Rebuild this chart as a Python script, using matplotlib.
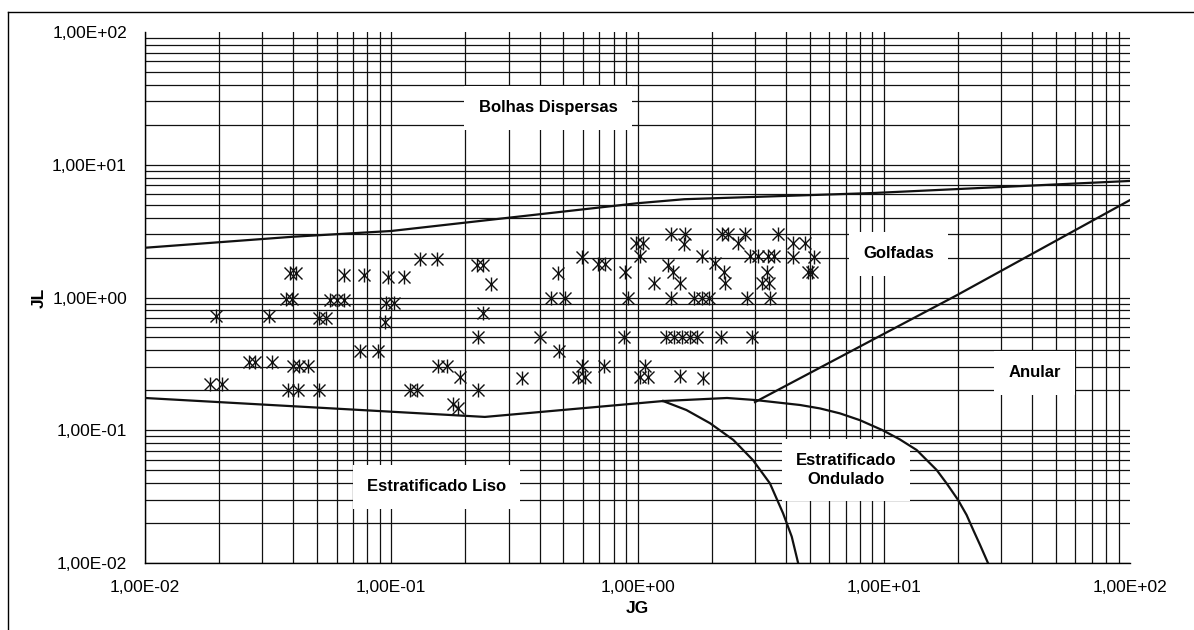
import matplotlib
matplotlib.use('Agg')
import matplotlib.pyplot as plt
from matplotlib.ticker import FixedLocator, FuncFormatter, NullFormatter
from matplotlib.lines import Line2D

plt.rcParams['font.family'] = ['Liberation Sans', 'DejaVu Sans']

# pontos experimentais (JG, JL)
jg_pts = [0.0388, 0.0409, 0.0645, 0.0777, 0.0967, 0.113, 0.0374, 0.0394,
          0.0564, 0.0600, 0.0645, 0.0950, 0.1029, 0.0194, 0.0319, 0.0509,
          0.0542, 0.0943, 0.0747, 0.0886, 0.0264, 0.0280, 0.0329, 0.0400,
          0.0422, 0.0460, 0.0184, 0.0206, 0.0382, 0.0419, 0.0509,
          0.119, 0.127, 0.131, 0.153, 0.222, 0.236, 0.254, 0.236, 0.226,
          0.402, 0.480, 0.477, 0.444, 0.508, 0.593, 0.689, 0.738, 0.155,
          0.168, 0.190, 0.226, 0.178, 0.187, 0.341, 0.593, 0.575, 0.612,
          0.733,
          1.37, 1.56, 1.55, 2.20, 2.33, 2.73, 2.57, 3.73, 4.29, 4.79,
          0.983, 1.05, 1.02, 1.83, 2.86, 3.09, 3.40, 3.59, 4.29, 5.22,
          0.890, 1.33, 1.40, 2.06, 2.25, 3.35, 5.10, 4.92, 1.17, 1.49,
          2.27, 3.19, 3.42, 0.918, 1.37, 1.69, 1.83, 1.95, 2.78, 3.45,
          0.884, 1.31, 1.41, 1.51, 1.63, 1.74, 2.18, 2.91, 1.07, 1.024,
          1.10, 1.49, 1.85]
jl_pts = [1.52, 1.52, 1.48, 1.48, 1.42, 1.42, 0.974, 0.974,
          0.958, 0.958, 0.958, 0.914, 0.914, 0.729, 0.729, 0.704,
          0.704, 0.657, 0.397, 0.397, 0.328, 0.328, 0.328, 0.305,
          0.305, 0.305, 0.224, 0.224, 0.200, 0.200, 0.200,
          0.200, 0.200, 1.94, 1.94, 1.76, 1.76, 1.26, 0.760, 0.507,
          0.507, 0.397, 1.54, 1.00, 1.00, 2.03, 1.78, 1.78, 0.305,
          0.305, 0.253, 0.200, 0.157, 0.146, 0.246, 0.305, 0.253, 0.253,
          0.305,
          3.00, 3.00, 2.53, 3.00, 3.00, 3.00, 2.56, 3.00, 2.56, 2.56,
          2.59, 2.59, 2.05, 2.05, 2.05, 2.05, 2.05, 2.05, 2.03, 2.03,
          1.565, 1.76, 1.565, 1.81, 1.565, 1.565, 1.565, 1.565, 1.28, 1.28,
          1.28, 1.28, 1.28, 1.00, 1.00, 1.00, 1.00, 1.00, 1.00, 1.00,
          0.50, 0.50, 0.50, 0.50, 0.50, 0.50, 0.50, 0.50, 0.305, 0.253,
          0.253, 0.256, 0.246]

# fronteiras do mapa de padroes
bolhas_jg = [0.01, 0.04, 0.1, 0.3, 1.0, 1.55, 9.0, 100]
bolhas_jl = [2.37, 2.87, 3.17, 3.99, 5.13, 5.5, 6.12, 7.55]
liso_jg = [0.01, 0.24, 1.27]
liso_jl = [0.175, 0.126, 0.166]
ond_dir_jg = [1.27, 2.31, 3.0, 4.57, 5.51, 6.64, 8.01, 9.9, 11.6, 13.6,
              16.4, 18.0, 20.0, 21.7, 23.1, 24.6, 26.5]
ond_dir_jl = [0.166, 0.175, 0.169, 0.155, 0.146, 0.134, 0.119, 0.100, 0.0855, 0.071,
              0.0502, 0.0398, 0.030, 0.023, 0.0177, 0.0137, 0.01]
ond_esq_jg = [1.27, 1.58, 1.97, 2.45, 2.94, 3.45, 3.90, 4.23, 4.49]
ond_esq_jl = [0.166, 0.142, 0.113, 0.0845, 0.0597, 0.0398, 0.0237, 0.0158, 0.01]
anular_jg = [3.0, 19.8, 100]
anular_jl = [0.163, 1.04, 5.42]

majors = [0.01, 0.1, 1, 10, 100]
minors = [m * 10.0 ** e for e in range(-2, 2) for m in range(2, 10)]

fig = plt.figure(figsize=(11.94, 6.30), dpi=100)
ax = fig.add_axes([145 / 1194, 1 - 563 / 630, 985 / 1194, 531 / 630])
ax.set_xscale('log')
ax.set_yscale('log')
ax.set_xlim(0.01, 100)
ax.set_ylim(0.01, 100)

fmt = FuncFormatter(lambda v, p: f"{v:.2E}".replace('.', ','))
for axis in (ax.xaxis, ax.yaxis):
    axis.set_major_locator(FixedLocator(majors))
    axis.set_minor_locator(FixedLocator(minors))
    axis.set_major_formatter(fmt)
    axis.set_minor_formatter(NullFormatter())

ax.set_axisbelow(True)
ax.grid(True, which='both', color='#111111', lw=0.9)
ax.tick_params(which='both', length=0)
ax.tick_params(axis='y', pad=13, labelsize=12.5)
ax.tick_params(axis='x', pad=12, labelsize=12.5)
for s in ['top', 'right']:
    ax.spines[s].set_visible(False)
for s in ['left', 'bottom']:
    ax.spines[s].set_linewidth(1.0)

line_kw = dict(color='#111111', lw=1.6, zorder=4)
ax.plot(bolhas_jg, bolhas_jl, **line_kw)
ax.plot(liso_jg, liso_jl, **line_kw)
ax.plot(ond_dir_jg, ond_dir_jl, **line_kw)
ax.plot(ond_esq_jg, ond_esq_jl, **line_kw)
ax.plot(anular_jg, anular_jl, **line_kw)

ax.plot(jg_pts, jl_pts, ls='none', marker='x', ms=9, mew=1.0, color='#111111', zorder=5)
ax.plot(jg_pts, jl_pts, ls='none', marker='|', ms=10, mew=1.0, color='#111111', zorder=5)

box = dict(boxstyle='square,pad=0.85', fc='white', ec='none')
txt_kw = dict(ha='center', va='center', fontsize=12, fontweight='bold', bbox=box, zorder=3)
ax.text(0.433, 26.8, 'Bolhas Dispersas', **txt_kw)
ax.text(11.5, 2.13, 'Golfadas', **txt_kw)
ax.text(41.1, 0.270, 'Anular', **txt_kw)
ax.text(7.03, 0.0502, 'Estratificado\nOndulado', linespacing=1.35, **txt_kw)
ax.text(0.153, 0.0374, 'Estratificado Liso', **txt_kw)

ax.set_xlabel('JG', fontsize=12.5, fontweight='bold')
ax.set_ylabel('JL', fontsize=12.5, fontweight='bold')
ax.xaxis.set_label_coords(0.5, -0.072)
ax.yaxis.set_label_coords(-0.1, 0.5)

# sem linha de grade em 1,00E+02 (como no original)
ax.xaxis.get_major_ticks()[-1].gridline.set_visible(False)
ax.yaxis.get_major_ticks()[-1].gridline.set_visible(False)

# moldura do grafico
fig.add_artist(Line2D([8 / 1194, 1], [1 - 12 / 630, 1 - 12 / 630], color='black', lw=1.0))
fig.add_artist(Line2D([8 / 1194, 8 / 1194], [0, 1 - 12 / 630], color='black', lw=1.0))

fig.savefig('out.png', dpi=100)
